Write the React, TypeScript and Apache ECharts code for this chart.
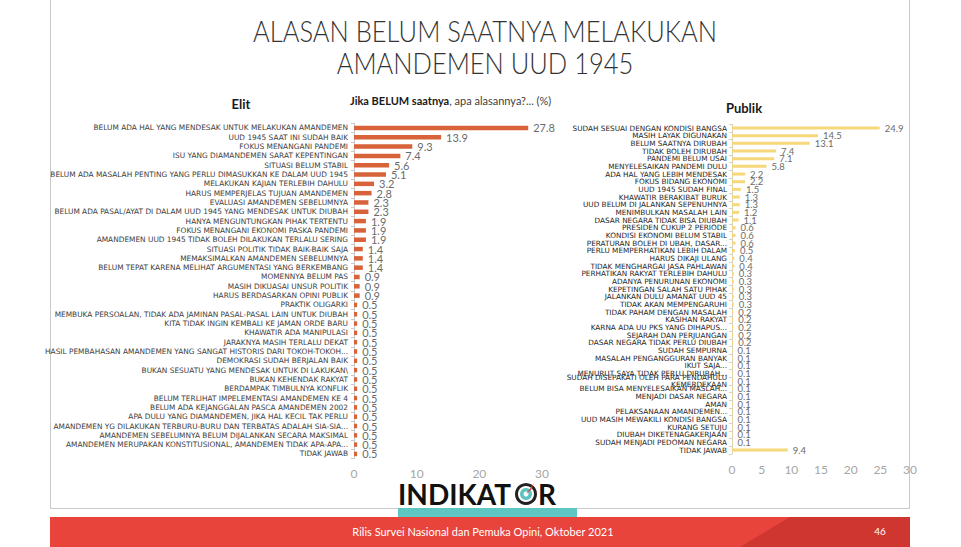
import React, { useEffect, useRef } from "react";
import * as echarts from "echarts";

const elitCategories = [
  "BELUM ADA HAL YANG MENDESAK UNTUK MELAKUKAN AMANDEMEN",
  "UUD 1945 SAAT INI SUDAH BAIK",
  "FOKUS MENANGANI PANDEMI",
  "ISU YANG DIAMANDEMEN SARAT KEPENTINGAN",
  "SITUASI BELUM STABIL",
  "BELUM ADA MASALAH PENTING YANG PERLU DIMASUKKAN KE DALAM UUD 1945",
  "MELAKUKAN KAJIAN TERLEBIH DAHULU",
  "HARUS MEMPERJELAS TUJUAN AMANDEMEN",
  "EVALUASI AMANDEMEN SEBELUMNYA",
  "BELUM ADA PASAL/AYAT DI DALAM UUD 1945 YANG MENDESAK UNTUK DIUBAH",
  "HANYA MENGUNTUNGKAN PIHAK TERTENTU",
  "FOKUS MENANGANI EKONOMI PASKA PANDEMI",
  "AMANDEMEN UUD 1945 TIDAK BOLEH DILAKUKAN TERLALU SERING",
  "SITUASI POLITIK TIDAK BAIK-BAIK SAJA",
  "MEMAKSIMALKAN AMANDEMEN SEBELUMNYA",
  "BELUM TEPAT KARENA MELIHAT ARGUMENTASI YANG BERKEMBANG",
  "MOMENNYA BELUM PAS",
  "MASIH DIKUASAI UNSUR POLITIK",
  "HARUS BERDASARKAN OPINI PUBLIK",
  "PRAKTIK OLIGARKI",
  "MEMBUKA PERSOALAN, TIDAK ADA JAMINAN PASAL-PASAL LAIN UNTUK DIUBAH",
  "KITA TIDAK INGIN KEMBALI KE JAMAN ORDE BARU",
  "KHAWATIR ADA MANIPULASI",
  "JARAKNYA MASIH TERLALU DEKAT",
  "HASIL PEMBAHASAN AMANDEMEN YANG SANGAT HISTORIS DARI TOKOH-TOKOH...",
  "DEMOKRASI SUDAH BERJALAN BAIK",
  "BUKAN SESUATU YANG MENDESAK UNTUK DI LAKUKAN\\",
  "BUKAN KEHENDAK RAKYAT",
  "BERDAMPAK TIMBULNYA KONFLIK",
  "BELUM TERLIHAT IMPELEMENTASI AMANDEMEN KE 4",
  "BELUM ADA KEJANGGALAN PASCA AMANDEMEN 2002",
  "APA DULU YANG DIAMANDEMEN, JIKA HAL KECIL TAK PERLU",
  "AMANDEMEN YG DILAKUKAN TERBURU-BURU DAN TERBATAS ADALAH SIA-SIA...",
  "AMANDEMEN SEBELUMNYA BELUM DIJALANKAN SECARA MAKSIMAL",
  "AMANDEMEN MERUPAKAN KONSTITUSIONAL, AMANDEMEN TIDAK APA-APA...",
  "TIDAK JAWAB",
];

const elitValues = [
  27.8, 13.9, 9.3, 7.4, 5.6, 5.1, 3.2, 2.8, 2.3, 2.3, 1.9, 1.9, 1.9, 1.4, 1.4,
  1.4, 0.9, 0.9, 0.9, 0.5, 0.5, 0.5, 0.5, 0.5, 0.5, 0.5, 0.5, 0.5, 0.5, 0.5,
  0.5, 0.5, 0.5, 0.5, 0.5, 0.5,
];

const publikCategories = [
  "SUDAH SESUAI DENGAN KONDISI BANGSA",
  "MASIH LAYAK DIGUNAKAN",
  "BELUM SAATNYA DIRUBAH",
  "TIDAK BOLEH DIRUBAH",
  "PANDEMI BELUM USAI",
  "MENYELESAIKAN PANDEMI DULU",
  "ADA HAL YANG LEBIH MENDESAK",
  "FOKUS BIDANG EKONOMI",
  "UUD 1945 SUDAH FINAL",
  "KHAWATIR BERAKIBAT BURUK",
  "UUD BELUM DI JALANKAN SEPENUHNYA",
  "MENIMBULKAN MASALAH LAIN",
  "DASAR NEGARA TIDAK BISA DIUBAH",
  "PRESIDEN CUKUP 2 PERIODE",
  "KONDISI EKONOMI BELUM STABIL",
  "PERATURAN BOLEH DI UBAH, DASAR...",
  "PERLU MEMPERHATIKAN LEBIH DALAM",
  "HARUS DIKAJI ULANG",
  "TIDAK MENGHARGAI JASA PAHLAWAN",
  "PERHATIKAN RAKYAT TERLEBIH DAHULU",
  "ADANYA PENURUNAN EKONOMI",
  "KEPETINGAN SALAH SATU PIHAK",
  "JALANKAN DULU AMANAT UUD 45",
  "TIDAK AKAN MEMPENGARUHI",
  "TIDAK PAHAM DENGAN MASALAH",
  "KASIHAN RAKYAT",
  "KARNA ADA UU PKS YANG DIHAPUS...",
  "SEJARAH DAN PERJUANGAN",
  "DASAR NEGARA TIDAK PERLU DIUBAH",
  "SUDAH SEMPURNA",
  "MASALAH PENGANGGURAN BANYAK",
  "IKUT SAJA...",
  "MENURUT SAYA TIDAK PERLU DIRUBAH...",
  "SUDAH DISEPAKATI OLEH PARA PENDAHULU\nKEMERDEKAAN",
  "BELUM BISA MENYELESAIKAN MASLAH...",
  "MENJADI DASAR NEGARA",
  "AMAN",
  "PELAKSANAAN AMANDEMEN...",
  "UUD MASIH MEWAKILI KONDISI BANGSA",
  "KURANG SETUJU",
  "DIUBAH DIKETENAGAKERJAAN",
  "SUDAH MENJADI PEDOMAN NEGARA",
  "TIDAK JAWAB",
];

const publikValues = [
  24.9, 14.5, 13.1, 7.4, 7.1, 5.8, 2.2, 2.2, 1.5, 1.3, 1.3, 1.2, 1.1, 0.6, 0.6,
  0.6, 0.5, 0.4, 0.4, 0.3, 0.3, 0.3, 0.3, 0.3, 0.2, 0.2, 0.2, 0.2, 0.2, 0.1,
  0.1, 0.1, 0.1, 0.1, 0.1, 0.1, 0.1, 0.1, 0.1, 0.1, 0.1, 0.1, 9.4,
];

const titleLines = ["ALASAN BELUM SAATNYA MELAKUKAN", "AMANDEMEN UUD 1945"];
const footerText = "Rilis Survei Nasional dan Pemuka Opini, Oktober 2021";
const pageNumber = "46";

const LABEL_FONT = "DejaVu Sans";
const NUM_FONT = "Lato";

export default function App() {
  const ref = useRef<HTMLDivElement>(null);

  useEffect(() => {
    if (!ref.current) return;
    const chart = echarts.init(ref.current, undefined, { renderer: "svg" });

    const valueLabel = (fs: number) => ({
      show: true,
      position: "right",
      distance: 5,
      color: "#6b6b6b",
      fontSize: fs,
      fontFamily: NUM_FONT,
      formatter: (p: any) => Number(p.value).toFixed(1),
    });

    const option: any = {
      animation: false,
      backgroundColor: "#ffffff",
      grid: [
        { left: 354, top: 123.3, width: 188, height: 335.3 },
        { left: 732, top: 124.2, width: 178, height: 329.7 },
      ],
      xAxis: [
        {
          gridIndex: 0,
          type: "value",
          min: 0,
          max: 30,
          interval: 10,
          splitLine: { show: false },
          axisLine: { show: false },
          axisTick: { show: false },
          axisLabel: { color: "#a6a6a6", fontSize: 12, fontFamily: NUM_FONT, margin: 9 },
        },
        {
          gridIndex: 1,
          type: "value",
          min: 0,
          max: 30,
          interval: 5,
          splitLine: { show: false },
          axisLine: { show: false },
          axisTick: { show: false },
          axisLabel: { color: "#a6a6a6", fontSize: 12, fontFamily: NUM_FONT, margin: 10 },
        },
      ],
      yAxis: [
        {
          gridIndex: 0,
          type: "category",
          inverse: true,
          data: elitCategories,
          axisLine: { show: true, lineStyle: { color: "#c8c8c8", width: 1 } },
          axisTick: { show: true, length: 3, lineStyle: { color: "#c8c8c8" } },
          axisLabel: {
            interval: 0,
            fontSize: 7.4,
            fontFamily: LABEL_FONT,
            color: "#404040",
            margin: 6,
          },
        },
        {
          gridIndex: 1,
          type: "category",
          inverse: true,
          data: publikCategories,
          axisLine: { show: true, lineStyle: { color: "#d9d2b8", width: 1 } },
          axisTick: { show: true, length: 3, lineStyle: { color: "#d9d2b8" } },
          axisLabel: {
            interval: 0,
            fontSize: 7.3,
            lineHeight: 7,
            fontFamily: LABEL_FONT,
            color: "#262626",
            margin: 5,
          },
        },
      ],
      series: [
        {
          type: "bar",
          xAxisIndex: 0,
          yAxisIndex: 0,
          data: elitValues,
          barWidth: 4.5,
          itemStyle: { color: "#D8623A" },
          label: valueLabel(11),
        },
        {
          type: "bar",
          xAxisIndex: 1,
          yAxisIndex: 1,
          data: publikValues,
          barWidth: 3,
          itemStyle: { color: "#F6D87A" },
          label: valueLabel(9.5),
        },
      ],
      graphic: [
        // frame
        { type: "line", shape: { x1: 50.5, y1: 0, x2: 50.5, y2: 508 }, style: { stroke: "#c9c9c9", lineWidth: 1 } },
        { type: "line", shape: { x1: 909.5, y1: 0, x2: 909.5, y2: 508 }, style: { stroke: "#c9c9c9", lineWidth: 1 } },
        { type: "line", shape: { x1: 50, y1: 508.5, x2: 910, y2: 508.5 }, style: { stroke: "#c9c9c9", lineWidth: 1 } },
        // title
        {
          type: "text",
          x: 485,
          y: 31,
          scaleX: 0.85,
          style: {
            text: titleLines[0],
            fontSize: 30,
            fontFamily: "Lato",
            fontWeight: 300,
            fill: "#333333",
            textAlign: "center",
            textVerticalAlign: "middle",
          },
        },
        {
          type: "text",
          x: 485,
          y: 63,
          scaleX: 0.85,
          style: {
            text: titleLines[1],
            fontSize: 30,
            fontFamily: "Lato",
            fontWeight: 300,
            fill: "#333333",
            textAlign: "center",
            textVerticalAlign: "middle",
          },
        },
        {
          type: "text",
          x: 241,
          y: 104,
          style: {
            text: "Elit",
            fontSize: 13,
            fontWeight: "bold",
            fontFamily: "Lato",
            fill: "#1a1a1a",
            textAlign: "center",
            textVerticalAlign: "middle",
          },
        },
        {
          type: "text",
          x: 744,
          y: 108,
          style: {
            text: "Publik",
            fontSize: 13,
            fontWeight: "bold",
            fontFamily: "Lato",
            fill: "#1a1a1a",
            textAlign: "center",
            textVerticalAlign: "middle",
          },
        },
        {
          type: "text",
          x: 350,
          y: 100,
          style: {
            text: "{b|Jika BELUM saatnya}{n|, apa alasannya?... (%)}",
            textVerticalAlign: "middle",
            rich: {
              b: { fontSize: 11, fontWeight: "bold", fontFamily: "Lato", fill: "#1a1a1a", color: "#1a1a1a" },
              n: { fontSize: 11, fontFamily: "Lato", fill: "#404040", color: "#404040" },
            },
          },
        },
        // logo
        {
          type: "text",
          x: 398,
          y: 494,
          style: {
            text: "INDIKAT",
            fontSize: 28,
            fontWeight: "bold",
            fontFamily: "Lato",
            fill: "#111111",
            textAlign: "left",
            textVerticalAlign: "middle",
          },
        },
        { type: "circle", shape: { cx: 526, cy: 494, r: 9.5 }, style: { fill: "none", stroke: "#222222", lineWidth: 3 } },
        { type: "circle", shape: { cx: 526, cy: 494, r: 6 }, style: { fill: "#5cc3c1" } },
        { type: "circle", shape: { cx: 526, cy: 494, r: 2.5 }, style: { fill: "#ffffff" } },
        { type: "polygon", shape: { points: [[526, 494], [534, 483], [531, 490]] }, style: { fill: "#e8433a" } },
        {
          type: "text",
          x: 538,
          y: 494,
          style: {
            text: "R",
            fontSize: 28,
            fontWeight: "bold",
            fontFamily: "Lato",
            fill: "#111111",
            textAlign: "left",
            textVerticalAlign: "middle",
          },
        },
        // footer
        { type: "rect", shape: { x: 50, y: 517, width: 860, height: 30 }, style: { fill: "#E8443B" } },
        { type: "polygon", shape: { points: [[790, 517], [910, 517], [910, 547], [740, 547]] }, style: { fill: "#D03630" } },
        { type: "rect", shape: { x: 398, y: 508, width: 179, height: 9 }, style: { fill: "#5EC6C3" } },
        {
          type: "text",
          x: 483,
          y: 531,
          style: {
            text: footerText,
            fontSize: 11,
            fontFamily: "Lato",
            fill: "#ffffff",
            textAlign: "center",
            textVerticalAlign: "middle",
          },
        },
        {
          type: "text",
          x: 880,
          y: 531,
          style: {
            text: pageNumber,
            fontSize: 10,
            fontFamily: "Lato",
            fill: "#ffffff",
            textAlign: "center",
            textVerticalAlign: "middle",
          },
        },
      ],
    };

    chart.setOption(option);
    return () => chart.dispose();
  }, []);

  return (
    <div
      ref={ref}
      style={{ position: "absolute", left: 0, top: 0, width: 961, height: 547, background: "#fff" }}
    />
  );
}
